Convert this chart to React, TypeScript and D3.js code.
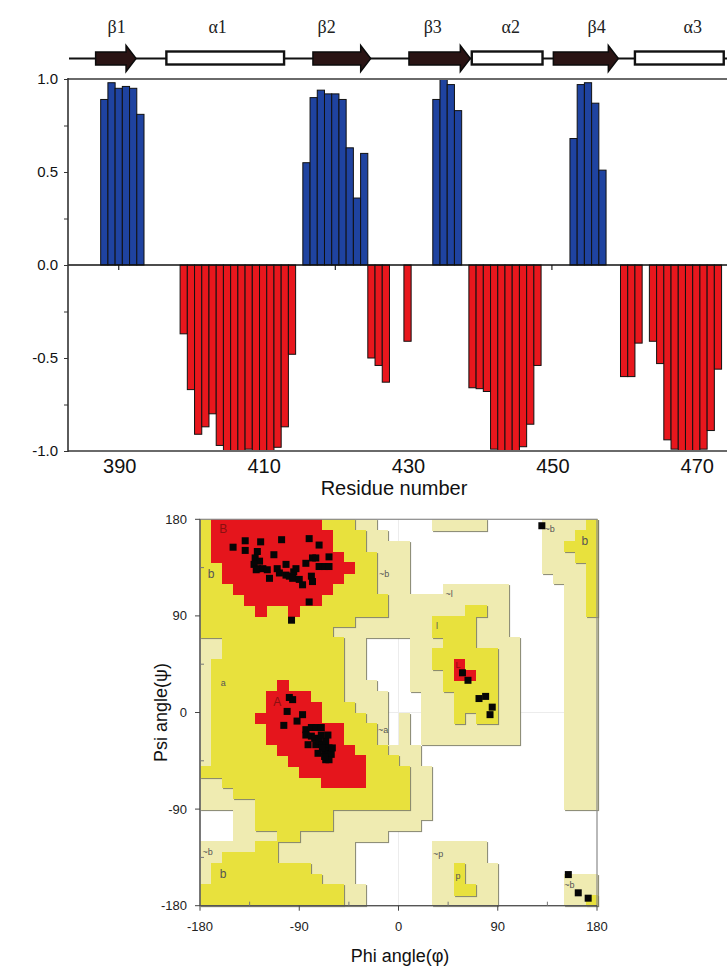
import React, { useRef, useEffect } from "react";
import * as d3 from "d3";

// ---------- top panel: per-residue secondary structure score ----------
const strandStarts = [388, 416, 434, 453];
const strandScores = [
  [0.89, 0.98, 0.95, 0.96, 0.95, 0.81],
  [0.55, 0.9, 0.94, 0.92, 0.92, 0.89, 0.63, 0.36, 0.6],
  [0.89, 1.0, 0.97, 0.83],
  [0.68, 0.97, 0.98, 0.87, 0.51],
];
const helixStarts = [399, 425, 430, 439, 460, 464];
const helixScores = [
  [-0.37, -0.67, -0.91, -0.87, -0.8, -0.97, -1.0, -1.0, -1.0, -0.99, -1.0, -1.0, -1.0, -0.98, -0.87, -0.48],
  [-0.5, -0.54, -0.63],
  [-0.41],
  [-0.66, -0.665, -0.68, -0.99, -1.0, -1.0, -1.0, -0.977, -0.856, -0.54],
  [-0.6, -0.6, -0.42],
  [-0.41, -0.53, -0.94, -0.99, -1.0, -1.0, -1.0, -0.99, -0.89, -0.56],
];
const scoreTicks = [-1, -0.75, -0.5, -0.25, 0, 0.25, 0.5, 0.75, 1];
const residueTicks = [390, 410, 430, 450, 470];
const residueMinorTicks = [390, 400, 410, 420, 430, 440, 450, 460, 470];

// secondary structure track
const ssNames = ["β1", "α1", "β2", "β3", "α2", "β4", "α3"];
const ssKinds = ["E", "H", "E", "E", "H", "E", "H"];
const ssFrom = [386.8, 396.6, 416.9, 430.2, 438.9, 450.2, 461.5];
const ssTo = [392.4, 412.9, 424.9, 438.7, 448.7, 459.2, 473.8];
const ssLabelAt = [389.7, 403.7, 418.8, 433.5, 444.3, 456.2, 469.5];

// ---------- bottom panel: Ramachandran plot ----------
// 10 degree cells, rows from psi=180 down, columns from phi=-180; run-length coded
// . disallowed, p generous, y allowed, r core
const regionRows = [
  "1y10r3y2p5.5p5.4p1y",
  "1y11r3y2p14.3p2y",
  "1y11r3y4p12.2p3y",
  "1y12r3y3p12.3p2y",
  "2y12r2y3p12.4p1y",
  "2y11r3y3p13.3p1y",
  "3y9r4y3p3.6p5.2p1y",
  "4y7r6y11p5.2p1y",
  "5y1r2y1r8y7p2y2p5.2p1y",
  "14y7p4y3p5.3p",
  "12y9p4y3p5.3p",
  "2p11y2p4.3p3y4p4.3p",
  "2p11y2p4.2p6y2p4.3p",
  "1p12y2p4.2p2y1r3y2p4.3p",
  "1p12y2p4.3p1y2r2y2p4.3p",
  "1p6y1r5y3p3.3p5y2p4.3p",
  "1p5y4r3y4p3.3p4y2p4.3p",
  "1p5y5r3y3p3.3p4y2p4.3p",
  "1p4y6r4y2p1.1p1.3p1y1p2y2p4.3p",
  "1p5y7r3y1p1.1p1.9p4.3p",
  "1p5y7r3y1p1.1p1.9p4.3p",
  "1p6y7r3y3p13.3p",
  "1p7y7r3y2p13.3p",
  "9y6r4y2p12.3p",
  "2p9y4r4y2p12.3p",
  "3p16y2p12.3p",
  "5p14y2p12.3p",
  "3.2p7y9p15.",
  "3.2p7y8p16.",
  "3.4p2y8p19.",
  "5p2y7p7.5p10.",
  "2p5y7p7.5p10.",
  "1p9y4p7.2p1y3p9.",
  "1p10y3p7.2p1y3p6.3p",
  "13y2p6.2p2y2p6.3p",
  "13y2p6.6p6.2p1y",
];

const phiValues = [
  -150, -139, -125, -106, -81, -72, -139, -128, -113, -130, -126, -131, -128, -123, -119, -129,
  -117, -110, -108, -102, -102, -99, -95, -93, -96, -90, -87, -84, -78, -75, -79, -78, -72, -67,
  -63, -63, -81, -97,
  -99, -96, -101, -104, -87, -92, -84, -79, -75, -70, -84, -79, -76, -82, -75, -72, -69, -66, -63,
  -67, -64, -61, -66, -63, -69, -70, -64, -73, -60, -67,
  58, 63, 73, 79, 85, 83,
  130, 154, 163, 172,
];
const psiValues = [
  154, 160, 159, 161, 162, 156, 151, 150, 147, 144, 141, 138, 134, 134, 133, 133,
  125, 134, 130, 138, 128, 127, 131, 134, 125, 124, 119, 139, 144, 144, 127, 122, 136, 136,
  145, 136, 103, 86,
  14, 12, 1, -12, -2, -8, -16, -14, -14, -14, -21, -22, -24, -30, -30, -27, -30, -27, -33,
  -36, -39, -39, -44, -44, -33, -21, -21, -38, -33, -41,
  37, 30, 13, 15, 5, -2,
  174, -151, -168, -173,
];

const regionLabelText = ["B", "b", "~b", "a", "A", "~a", "~b", "b", "~l", "l", "L", "~p", "p", "~b", "b", "~b"];
const regionLabelPhi = [-159, -170, -13, -159, -110, -14, -173, -159, 46, 35, 54, 36, 54, 155, 169, 137];
const regionLabelPsi = [170, 128, 128, 27, 9, -17, -131, -151, 110, 80, 44, -132, -153, -161, 159, 170];
const angleTicks = [-180, -90, 0, 90, 180];
const angleMinorTicks = [-135, -45, 45, 135];

const regionFill: Record<string, string> = { p: "#efebb1", y: "#e8e13d", r: "#e5151c" };

const decodeRow = (row: string) => {
  const out: string[] = [];
  for (const m of row.matchAll(/(\d+)([.pyr])/g)) {
    for (let k = 0; k < Number(m[1]); k++) out.push(m[2]);
  }
  return out;
};

const sans = "'Liberation Sans', Arial, sans-serif";

const App = () => {
  const yAxisRef = useRef<SVGGElement>(null);

  // top panel scales
  const x = d3.scaleLinear().domain([383, 475]).range([68.2, 732.4]);
  const y = d3.scaleLinear().domain([-1, 1]).range([451, 79]);

  // Ramachandran scales
  const phiX = d3.scaleLinear().domain([-180, 180]).range([200, 597]);
  const psiY = d3.scaleLinear().domain([-180, 180]).range([905.7, 519.3]);

  const bars: { res: number; val: number; kind: string }[] = [];
  strandStarts.forEach((s, k) => strandScores[k].forEach((v, i) => bars.push({ res: s + i, val: v, kind: "E" })));
  helixStarts.forEach((s, k) => helixScores[k].forEach((v, i) => bars.push({ res: s + i, val: v, kind: "H" })));

  const cells: { i: number; j: number; c: string }[] = [];
  regionRows.forEach((row, j) => decodeRow(row).forEach((c, i) => cells.push({ i, j, c })));

  useEffect(() => {
    const g = d3.select(yAxisRef.current);
    g.call(
      d3
        .axisLeft(y)
        .tickValues(scoreTicks)
        .tickSize(4)
        .tickPadding(6)
        .tickFormat((d: any) => (Math.abs((d as number) * 2 - Math.round((d as number) * 2)) < 1e-6 ? (d as number).toFixed(1) : ""))
    );
    g.select(".domain").remove();
    g.selectAll("line").attr("stroke", "#333");
    g.selectAll("text").attr("font-family", sans).attr("font-size", 15).attr("fill", "#111");
  });

  const ssY = 58.5;
  const arrowPath = (a: number, b: number) => {
    const x0 = x(a), x1 = x(b), hx = x1 - 10;
    return `M${x0},${ssY - 6.5}H${hx}V${ssY - 13}L${x1},${ssY}L${hx},${ssY + 13}V${ssY + 6.5}H${x0}Z`;
  };

  return (
    <svg width={727} height={967} style={{ position: "absolute", left: 0, top: 0, background: "#fff" }}>
      <style>{"body{margin:0}"}</style>
      <defs>
        <filter id="edgeShade" x="-2%" y="-2%" width="104%" height="104%">
          <feDropShadow dx="1.1" dy="1.1" stdDeviation="0.35" floodColor="#7c7a62" floodOpacity="0.85" />
        </filter>
        <clipPath id="topClip">
          <rect x={68} y={70} width={660} height={390} />
        </clipPath>
      </defs>

      {/* secondary structure track */}
      <line x1={69} x2={727} y1={ssY} y2={ssY} stroke="#111" strokeWidth={2} />
      {ssNames.map((n, k) =>
        ssKinds[k] === "E" ? (
          <path key={n} d={arrowPath(ssFrom[k], ssTo[k])} fill="#2a1414" stroke="#0b0b0b" strokeWidth={1.5} />
        ) : (
          <rect key={n} x={x(ssFrom[k])} y={ssY - 7} width={x(ssTo[k]) - x(ssFrom[k])} height={13} fill="#fff" stroke="#111" strokeWidth={2.4} />
        )
      )}
      {ssNames.map((n, k) => (
        <text key={"l" + n} x={x(ssLabelAt[k])} y={33} textAnchor="middle" fontFamily="'Liberation Serif', 'DejaVu Serif', serif" fontSize={18} fill="#222">
          {n}
        </text>
      ))}

      {/* top panel */}
      {residueMinorTicks.map((t) => (
        <line key={"mt" + t} x1={x(t)} x2={x(t)} y1={y(0)} y2={y(0) + 5} stroke="#222" strokeWidth={1.2} />
      ))}
      <g clipPath="url(#topClip)">
        {bars.map((b) => (
          <rect
            key={b.res}
            x={x(b.res - 0.5)}
            y={Math.min(y(b.val), y(0))}
            width={x(b.res + 0.5) - x(b.res - 0.5)}
            height={Math.abs(y(b.val) - y(0))}
            fill={b.kind === "E" ? "#1f43a0" : "#e8171d"}
            stroke="#111"
            strokeWidth={1}
          />
        ))}
      </g>
      <line x1={68} x2={727} y1={y(0)} y2={y(0)} stroke="#111" strokeWidth={1.4} />
      <line x1={68} x2={727} y1={79} y2={79} stroke="#6a6a6a" strokeWidth={2} />
      <line x1={68} x2={727} y1={451} y2={451} stroke="#6a6a6a" strokeWidth={2} />
      <line x1={68} x2={68} y1={78} y2={452} stroke="#333" strokeWidth={1.6} />
      <g ref={yAxisRef} transform="translate(68,0)" />
      {residueTicks.map((t) => (
        <text key={"xt" + t} x={x(t) + 1} y={473} textAnchor="middle" fontFamily={sans} fontSize={20} fill="#111">
          {t}
        </text>
      ))}
      <text x={394} y={495} textAnchor="middle" fontFamily={sans} fontSize={20} fill="#111">
        Residue number
      </text>

      {/* Ramachandran plot */}
      <line x1={phiX(0)} x2={phiX(0)} y1={psiY(180)} y2={psiY(-180)} stroke="#ececec" />
      <line x1={phiX(-180)} x2={phiX(180)} y1={psiY(0)} y2={psiY(0)} stroke="#ececec" />
      {[
        { code: "p", set: "pyr", shade: true },
        { code: "y", set: "yr", shade: true },
        { code: "r", set: "r", shade: false },
      ].map((layer) => (
        <g key={layer.code} filter={layer.shade ? "url(#edgeShade)" : undefined} shapeRendering="crispEdges">
          {cells
            .filter((c) => layer.set.includes(c.c))
            .map((c) => {
              const x0 = phiX(-180 + 10 * c.i);
              const y0 = psiY(180 - 10 * c.j);
              return (
                <rect
                  key={c.i + "-" + c.j}
                  x={x0}
                  y={y0}
                  width={phiX(-170 + 10 * c.i) - x0 + 0.6}
                  height={psiY(170 - 10 * c.j) - y0 + 0.6}
                  fill={regionFill[layer.code]}
                />
              );
            })}
        </g>
      ))}
      {regionLabelText.map((t, k) => (
        <text
          key={"rl" + k}
          x={phiX(regionLabelPhi[k])}
          y={psiY(regionLabelPsi[k])}
          textAnchor="middle"
          dominantBaseline="middle"
          fontFamily={sans}
          fontSize={t === "A" || t === "B" || t === "b" ? 12 : 9}
          fill={t === "A" || t === "B" || t === "L" ? "#8a1010" : "#555"}
        >
          {t}
        </text>
      ))}
      {phiValues.map((p, k) => (
        <rect key={"pt" + k} x={phiX(p) - 3.5} y={psiY(psiValues[k]) - 3.5} width={7} height={7} fill="#060606" />
      ))}
      {/* frame */}
      <rect x={phiX(-180)} y={psiY(180)} width={phiX(180) - phiX(-180)} height={psiY(-180) - psiY(180)} fill="none" stroke="#8a8a8a" strokeWidth={1.2} />
      <line x1={phiX(-180)} x2={phiX(-180)} y1={psiY(180)} y2={psiY(-180)} stroke="#555" strokeWidth={1.3} />
      <line x1={phiX(-180)} x2={phiX(180)} y1={psiY(-180)} y2={psiY(-180)} stroke="#555" strokeWidth={1.3} />
      {angleTicks.map((t) => (
        <g key={"at" + t}>
          <line x1={phiX(-180) - 5} x2={phiX(-180)} y1={psiY(t)} y2={psiY(t)} stroke="#444" />
          <line x1={phiX(t)} x2={phiX(t)} y1={psiY(-180)} y2={psiY(-180) + 5} stroke="#444" />
          <text x={187} y={psiY(t)} dy="0.35em" textAnchor="end" fontFamily={sans} fontSize={13} fill="#222">
            {t}
          </text>
          <text x={phiX(t)} y={931} textAnchor="middle" fontFamily={sans} fontSize={13} fill="#222">
            {t}
          </text>
        </g>
      ))}
      {angleMinorTicks.map((t) => (
        <g key={"am" + t}>
          <line x1={phiX(-180)} x2={phiX(-180) + 4} y1={psiY(t)} y2={psiY(t)} stroke="#777" />
          <line x1={phiX(t)} x2={phiX(t)} y1={psiY(-180)} y2={psiY(-180) - 4} stroke="#777" />
        </g>
      ))}
      <text x={400} y={962} textAnchor="middle" fontFamily={sans} fontSize={18} fill="#111">
        Phi angle(φ)
      </text>
      <text transform={`translate(167,${psiY(0)}) rotate(-90)`} textAnchor="middle" fontFamily={sans} fontSize={18} fill="#111">
        Psi angle(ψ)
      </text>
    </svg>
  );
};

export default App;
